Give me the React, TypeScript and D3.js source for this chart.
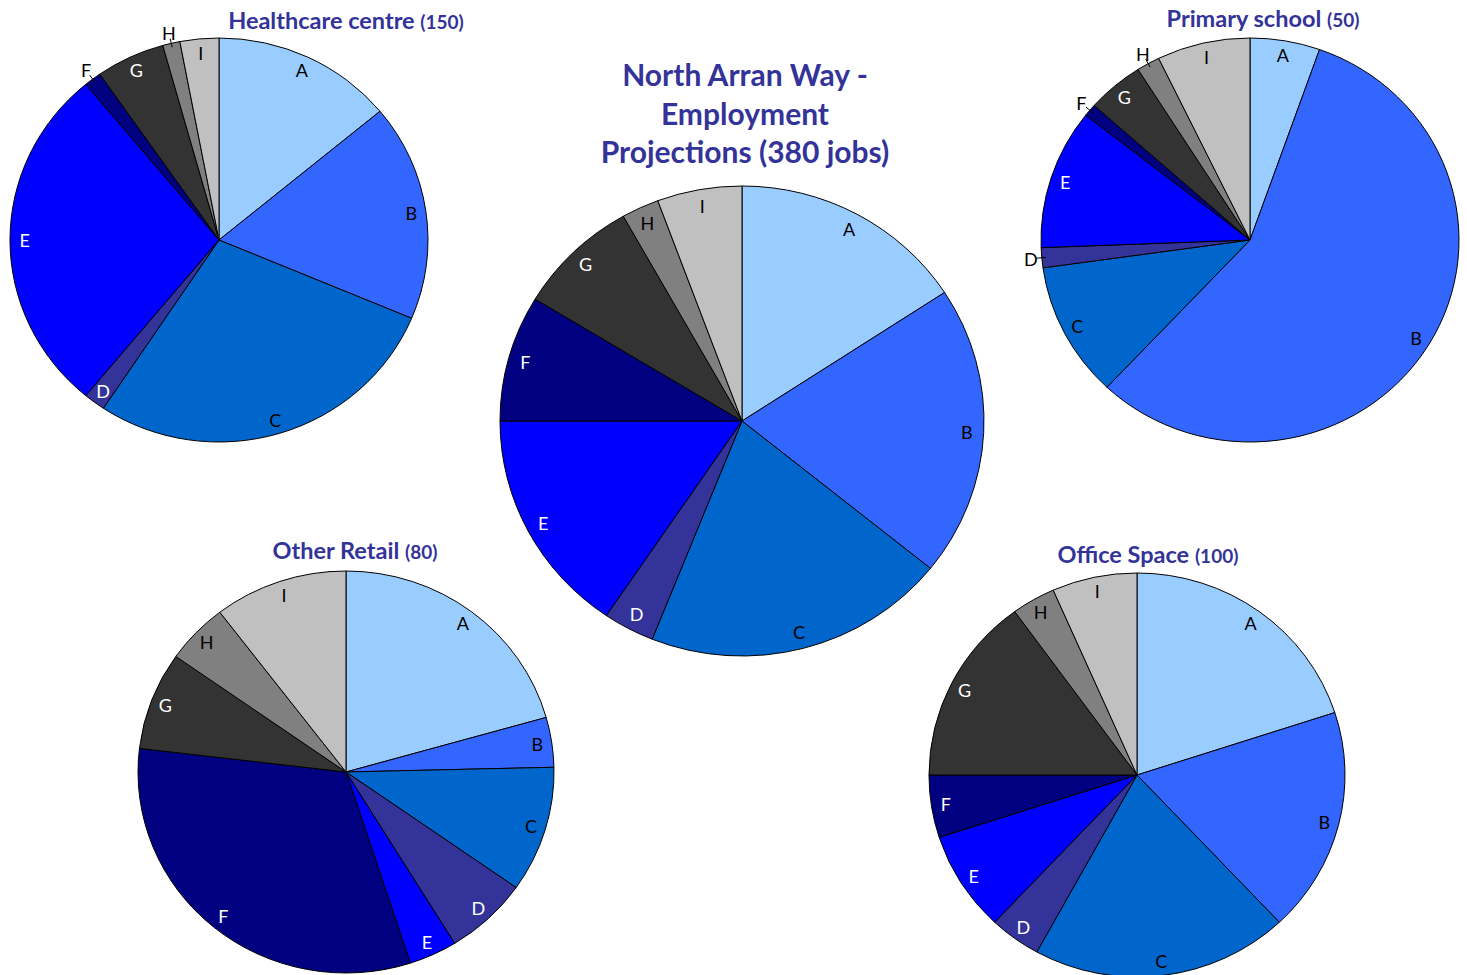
import { useEffect, useRef } from "react";
import * as d3 from "d3";

// slice categories (same order in every pie)
const categories = ["A", "B", "C", "D", "E", "F", "G", "H", "I"];
const sliceColors = ["#99ccff", "#3366ff", "#0066cc", "#333399", "#0000ff", "#000080", "#333333", "#808080", "#c0c0c0"];
const whiteLabel = ["D", "E", "F", "G"];

// jobs per category
const totalJobs = [60, 76, 77, 13, 59, 33, 31, 9.5, 21.5];
const healthcareJobs = [21, 26, 42, 2.5, 42, 2, 8, 2, 4.5];
const primaryJobs = [2.7, 28.3, 5.4, 0.8, 5.6, 0.5, 2.2, 0.9, 3.6];
const retailJobs = [16.5, 3.2, 8.1, 5.2, 3.0, 25.5, 6.3, 3.9, 8.3];
const officeJobs = [20, 18, 20, 4, 8, 5, 15, 3.4, 6.6];

// labels that Excel pushed outside the slice
const healthcareOutside = ["F", "H"];
const primaryOutside = ["D", "F", "H"];

const W = 1467;
const H = 975;
const titleColor = "#333399";
const font = "Lato, 'Open Sans', sans-serif";

interface PieSpec {
  values: number[];
  outside: string[];
  cx: number;
  cy: number;
  rx: number;
  ry: number;
}

export default function App() {
  const svgRef = useRef<SVGSVGElement>(null);

  useEffect(() => {
    if (!svgRef.current) return;
    const svg = d3.select(svgRef.current);
    svg.selectAll("*").remove();

    const pies: PieSpec[] = [
      { values: healthcareJobs, outside: healthcareOutside, cx: 219, cy: 240, rx: 209, ry: 202 },
      { values: primaryJobs, outside: primaryOutside, cx: 1250, cy: 240, rx: 209, ry: 202 },
      { values: totalJobs, outside: [], cx: 742, cy: 421, rx: 242, ry: 235 },
      { values: retailJobs, outside: [], cx: 346, cy: 772, rx: 208, ry: 201 },
      { values: officeJobs, outside: [], cx: 1137, cy: 775, rx: 208, ry: 202 },
    ];

    const pieGen = d3.pie<number>().sort(null).value((d) => d);
    const color = d3.scaleOrdinal<string, string>().domain(categories).range(sliceColors);

    pies.forEach((p) => {
      const arcs = pieGen(p.values);
      const arc = d3.arc<d3.PieArcDatum<number>>().innerRadius(0).outerRadius(p.ry);

      const g = svg
        .append("g")
        .attr("transform", `translate(${p.cx},${p.cy}) scale(${p.rx / p.ry},1)`);

      g.selectAll("path")
        .data(arcs)
        .join("path")
        .attr("d", arc)
        .attr("fill", (d, i) => color(categories[i]))
        .attr("stroke", "#000")
        .attr("stroke-width", 1)
        .attr("vector-effect", "non-scaling-stroke");

      // labels
      const labels = svg.append("g");
      arcs.forEach((d, i) => {
        const cat = categories[i];
        const a = (d.startAngle + d.endAngle) / 2;
        const sx = Math.sin(a);
        const sy = -Math.cos(a);
        const out = p.outside.includes(cat);
        if (out) {
          const ex = p.cx + sx * p.rx;
          const ey = p.cy + sy * p.ry;
          labels
            .append("line")
            .attr("x1", ex - sx * 4)
            .attr("y1", ey - sy * 4)
            .attr("x2", ex + sx * 5)
            .attr("y2", ey + sy * 5)
            .attr("stroke", "#000")
            .attr("stroke-width", 1);
          labels
            .append("text")
            .attr("x", ex + sx * 11)
            .attr("y", ey + sy * 11)
            .attr("text-anchor", "middle")
            .attr("dominant-baseline", "central")
            .attr("font-family", font)
            .attr("font-size", 18)
            .attr("fill", "#000")
            .text(cat);
        } else {
          const k = 0.93;
          labels
            .append("text")
            .attr("x", p.cx + sx * k * p.rx)
            .attr("y", p.cy + sy * k * p.ry)
            .attr("text-anchor", "middle")
            .attr("dominant-baseline", "central")
            .attr("font-family", font)
            .attr("font-size", 18)
            .attr("fill", whiteLabel.includes(cat) ? "#fff" : "#000")
            .text(cat);
        }
      });
    });

    // small pie titles
    const titles = [
      { name: "Healthcare centre", count: "(150)", x: 346, y: 29 },
      { name: "Primary school", count: "(50)", x: 1263, y: 27 },
      { name: "Other Retail", count: "(80)", x: 355, y: 559 },
      { name: "Office Space", count: "(100)", x: 1148, y: 563 },
    ];
    titles.forEach((t) => {
      const txt = svg
        .append("text")
        .attr("x", t.x)
        .attr("y", t.y)
        .attr("text-anchor", "middle")
        .attr("font-family", font)
        .attr("font-weight", "bold")
        .attr("fill", titleColor);
      txt.append("tspan").attr("font-size", 23.5).text(t.name + " ");
      txt.append("tspan").attr("font-size", 19).text(t.count);
    });

    // main title
    const mainLines = ["North Arran Way -", "Employment", "Projections (380 jobs)"];
    svg
      .append("g")
      .selectAll("text")
      .data(mainLines)
      .join("text")
      .attr("x", 745)
      .attr("y", (d, i) => 86 + i * 38.5)
      .attr("text-anchor", "middle")
      .attr("font-family", font)
      .attr("font-weight", "bold")
      .attr("font-size", 30)
      .attr("fill", titleColor)
      .text((d) => d);
  }, []);

  return (
    <svg
      ref={svgRef}
      width={W}
      height={H}
      style={{ position: "absolute", left: 0, top: 0, background: "#fff" }}
      viewBox={`0 0 ${W} ${H}`}
    />
  );
}
